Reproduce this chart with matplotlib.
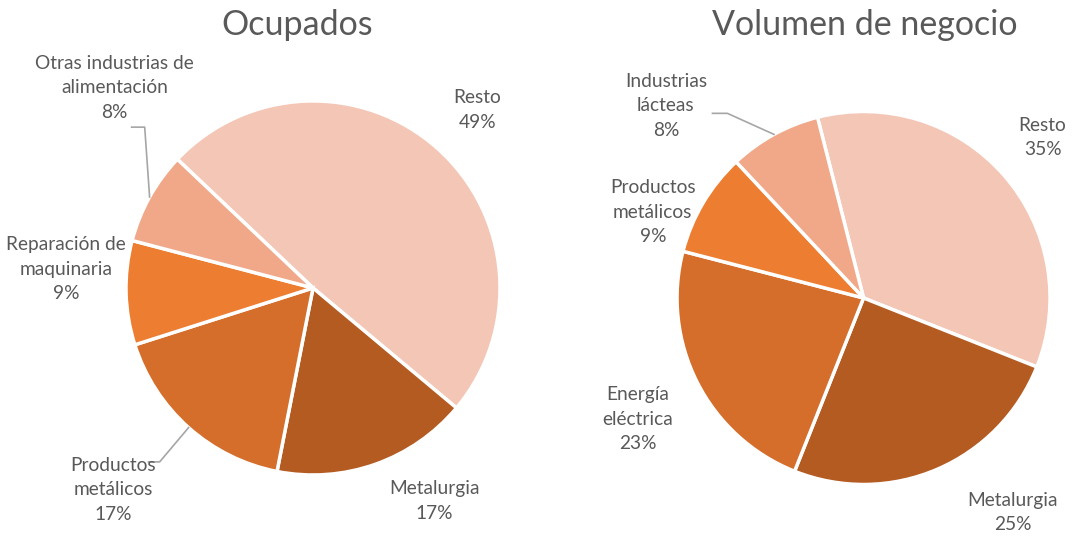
import numpy as np
import matplotlib.pyplot as plt

plt.rcParams['font.family'] = ['Lato', 'DejaVu Sans']

# Ocupados
ocu_labels = ['Resto', 'Metalurgia', 'Productos\nmetálicos', 'Reparación de\nmaquinaria', 'Otras industrias de\nalimentación']
ocu_vals = [49, 17, 17, 9, 8]
# Volumen de negocio
vol_labels = ['Resto', 'Metalurgia', 'Energía\neléctrica', 'Productos\nmetálicos', 'Industrias\nlácteas']
vol_vals = [35, 25, 23, 9, 8]

ocu_colors = ['#F4C6B5', '#B45B22', '#D46E2A', '#ED7D31', '#F0A889']
vol_colors = ['#F4C6B5', '#B45B22', '#D46E2A', '#ED7D31', '#F0A889']

txt = '#595959'
lead = '#A6A6A6'

fig = plt.figure(figsize=(10.76, 5.37), dpi=100)


def draw(rect, vals, labels, colors, start, lab_pos, leaders):
    ax = fig.add_axes(rect)
    wedges, _ = ax.pie(vals, colors=colors, startangle=start, counterclock=False,
                       radius=1, wedgeprops=dict(edgecolor='white', linewidth=2.5))
    ax.set_xlim(-1, 1)
    ax.set_ylim(-1, 1)
    ax.set_aspect('equal')
    ax.axis('off')
    for lab, v, (x, y) in zip(labels, vals, lab_pos):
        ax.text(x, y, lab + '\n' + str(v) + '%', ha='center', va='center',
                fontsize=13.8, color=txt, linespacing=1.55)
    # leader lines from wedge middle to label
    for i, (ex, ey, hx) in leaders.items():
        w = wedges[i]
        a = np.deg2rad((w.theta1 + w.theta2) / 2)
        ax.plot([np.cos(a), ex, hx], [np.sin(a), ey, ey], color=lead, lw=1.2, clip_on=False)
    return ax


draw([0.1171, 0.1155, 0.3476, 0.6965], ocu_vals, ocu_labels, ocu_colors, 136.5,
     [(0.88, 0.95), (0.65, -1.14), (-1.07, -1.08), (-1.32, 0.10), (-1.06, 1.07)],
     {2: (-0.82, -0.93, -0.88), 4: (-0.90, 0.86, -0.97)})

draw([0.6292, 0.0978, 0.3467, 0.6946], vol_vals, vol_labels, vol_colors, 104.3,
     [(0.96, 0.86), (0.80, -1.15), (-1.21, -0.65), (-1.13, 0.46), (-1.06, 1.03)],
     {4: (-0.73, 0.99, -0.81)})

fig.text(297 / 1076, 1 - 25 / 537, 'Ocupados', ha='center', va='center', fontsize=24.5, color=txt)
fig.text(865 / 1076, 1 - 25 / 537, 'Volumen de negocio', ha='center', va='center', fontsize=24.5, color=txt)

fig.savefig('out.png', dpi=100)
